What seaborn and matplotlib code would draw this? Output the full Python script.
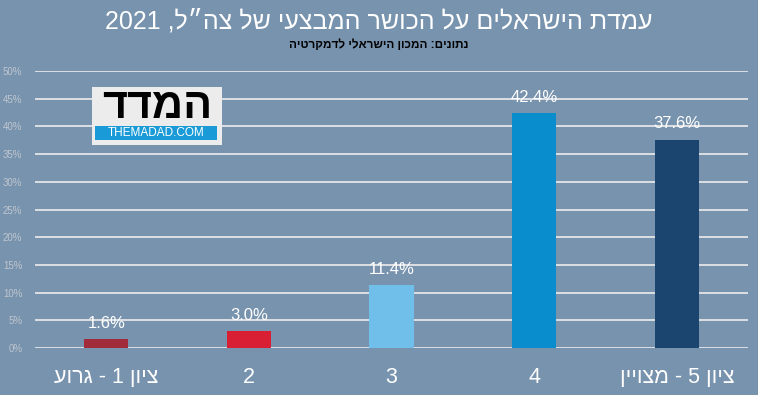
import re
import pandas as pd
import matplotlib
matplotlib.use("Agg")
import matplotlib.pyplot as plt
import seaborn as sns
from matplotlib.patches import Rectangle

# chart data
categories = ["ציון 1 - גרוע", "2", "3", "4", "ציון 5 - מצויין"]
values = [1.6, 3.0, 11.4, 42.4, 37.6]
bar_colors = ["#a12a3b", "#d91f34", "#70bfea", "#0a8dcc", "#1b446e"]
y_ticks = [0, 5, 10, 15, 20, 25, 30, 35, 40, 45, 50]

title = "עמדת הישראלים על הכושר המבצעי של צה״ל, 2021"
subtitle = "נתונים: המכון הישראלי לדמקרטיה"
logo_word = "המדד"
logo_url = "THEMADAD.COM"

bg = "#7893ae"


def rtl(s):
    # crude bidi: reverse the string, keep digit runs in reading order
    rev = s[::-1]
    return re.sub(r"[0-9.]+", lambda m: m.group(0)[::-1], rev)


df = pd.DataFrame({"cat": [rtl(c) for c in categories], "val": values})

sns.set_theme(style="white")
plt.rcParams["font.family"] = ["Liberation Sans", "DejaVu Sans"]

fig = plt.figure(figsize=(7.58, 3.95), dpi=100, facecolor=bg)
ax = fig.add_axes([0.046, 0.119, 0.941, 0.701])
ax.set_facecolor(bg)

for y in y_ticks:
    ax.axhline(y, color="#dcdfe3", lw=1.4, zorder=0)

sns.barplot(data=df, x="cat", y="val", hue="cat", palette=bar_colors,
            width=0.31, legend=False, ax=ax, saturation=1, zorder=2,
            edgecolor="none", linewidth=0)

for i, v in enumerate(values):
    ax.annotate(f"{v:.1f}%", (i, v), textcoords="offset points", xytext=(0, 6),
                ha="center", va="bottom", color="white", fontsize=12,
                zorder=5)

ax.set_ylim(0, 50)
ax.set_xlim(-0.5, 4.5)
ax.set_yticks(y_ticks)
ax.set_yticklabels([f"{t}%" for t in y_ticks], color="#bfc6ce", fontsize=7)
ax.tick_params(axis="y", length=0, pad=9)
ax.tick_params(axis="x", length=0, pad=14)
for lab in ax.get_xticklabels():
    lab.set_color("white")
    lab.set_fontsize(15.5)
ax.set_xlabel("")
ax.set_ylabel("")
sns.despine(ax=ax, left=True, bottom=True)

fig.text(0.5, 0.945, rtl(title), ha="center", va="center", color="white", fontsize=18)
fig.text(0.5, 0.885, rtl(subtitle), ha="center", va="center", color="black",
         fontsize=8.5, fontweight="bold")

# logo box
fig.patches.append(Rectangle((92 / 758, 1 - 145 / 395), 130 / 758, 58 / 395,
                             transform=fig.transFigure, facecolor="#ececec",
                             edgecolor="none", zorder=5))
fig.patches.append(Rectangle((95 / 758, 1 - 140 / 395), 122 / 758, 14 / 395,
                             transform=fig.transFigure, facecolor="#1a9bd7",
                             edgecolor="none", zorder=6))
fig.text(157 / 758, 1 - 107 / 395, rtl(logo_word), ha="center", va="center",
         color="black", fontsize=31, fontweight="heavy", zorder=7)
fig.text(156 / 758, 1 - 133 / 395, logo_url, ha="center", va="center",
         color="white", fontsize=8.5, zorder=7)

fig.savefig("out.png", dpi=100, facecolor=bg)
